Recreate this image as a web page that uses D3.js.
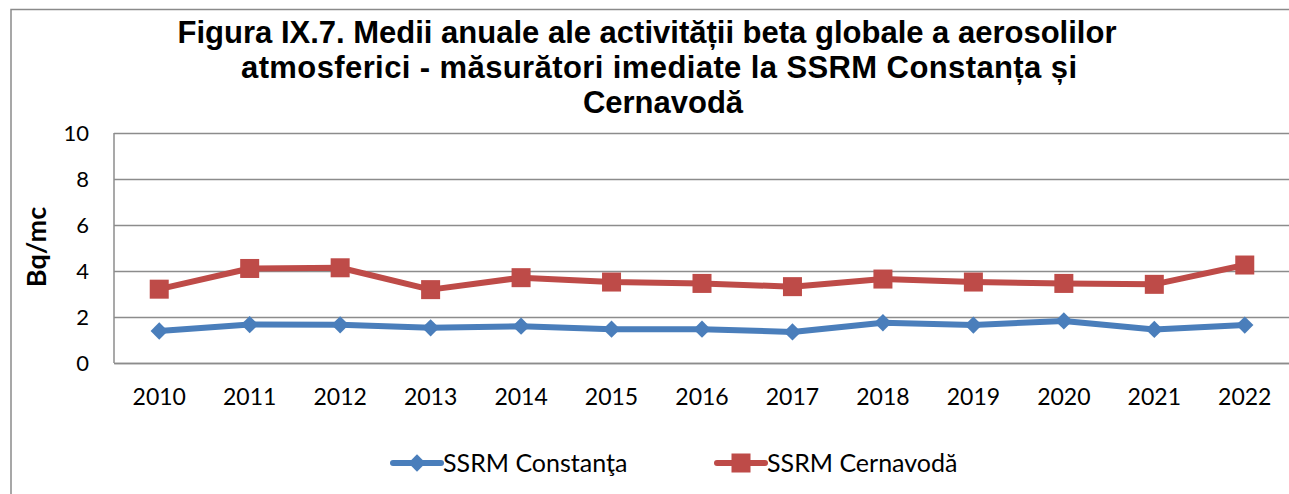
<!DOCTYPE html>
<html>
<head>
<meta charset="utf-8">
<script src="https://cdn.jsdelivr.net/npm/d3@7"></script>
<style>
  body { margin: 0; background: #fff; }
  svg { display: block; }
</style>
</head>
<body>
<script>
const years = ["2010","2011","2012","2013","2014","2015","2016","2017","2018","2019","2020","2021","2022"]
const constanta = [1.39, 1.67, 1.66, 1.53, 1.60, 1.47, 1.47, 1.35, 1.75, 1.65, 1.83, 1.46, 1.65]
const cernavoda = [3.21, 4.11, 4.14, 3.19, 3.71, 3.52, 3.46, 3.32, 3.65, 3.52, 3.46, 3.42, 4.26]
const yTicks = [0, 2, 4, 6, 8, 10]
const titleLines = [
    "Figura IX.7. Medii anuale ale activității beta globale a aerosolilor",
    "atmosferici - măsurători imediate la SSRM Constanța și",
    "Cernavodă"
]
const seriesNames = ["SSRM Constanţa", "SSRM Cernavodă"]

const width = 1289
const height = 494
const plot = {left: 114, right: 1290, top: 133, bottom: 363}
const blue = "#4a7ebb"
const red = "#be4b48"
const grid = "#8c8c8c"
const lblFont = "Lato, 'Open Sans', sans-serif"

const svg = d3.select("body").append("svg")
    .attr("width", width)
    .attr("height", height)

// outer chart frame
svg.append("rect")
    .attr("x", 11).attr("y", 9.5)
    .attr("width", width + 20).attr("height", height + 20)
    .attr("fill", "none").attr("stroke", "#8a8a8a").attr("stroke-width", 1.5)

// title (each line centred where the original puts it)
const titleX = [647, 659, 663]
const title = svg.append("text")
    .attr("text-anchor", "middle")
    .attr("font-family", "'Liberation Sans', Arial, sans-serif")
    .attr("font-weight", "bold")
    .attr("font-size", 31)
title.selectAll("tspan")
    .data(titleLines)
    .enter().append("tspan")
    .attr("x", (d, i) => titleX[i])
    .attr("y", (d, i) => 43 + i * 35)
    .text(d => d)
title.selectAll("tspan").filter((d, i) => i === 1)
    .attr("textLength", 836).attr("lengthAdjust", "spacing")

const x = d3.scaleBand().domain(years).range([plot.left, plot.right])
const cx = d => x(d) + x.bandwidth() / 2
const y = d3.scaleLinear().domain([0, 10]).range([plot.bottom, plot.top])

// gridlines + y axis
const yAxis = svg.append("g")
    .attr("transform", `translate(${plot.left},0)`)
    .call(d3.axisLeft(y).tickValues(yTicks).tickSize(-(plot.right - plot.left)).tickPadding(25))
yAxis.select(".domain").remove()
yAxis.selectAll(".tick line").attr("stroke", grid).attr("stroke-width", 1.5)
yAxis.selectAll(".tick text")
    .attr("font-family", lblFont).attr("font-size", 22).attr("fill", "#000")

svg.append("line")
    .attr("x1", plot.left).attr("x2", plot.left)
    .attr("y1", plot.top).attr("y2", plot.bottom)
    .attr("stroke", grid).attr("stroke-width", 1.5)

// x axis
const xAxis = svg.append("g")
    .attr("transform", `translate(0,${plot.bottom})`)
    .call(d3.axisBottom(x).tickSize(0).tickPadding(26))
xAxis.select(".domain").attr("stroke", grid).attr("stroke-width", 1.5)
xAxis.selectAll(".tick text")
    .attr("font-family", lblFont).attr("font-size", 23).attr("fill", "#000")

// y axis title
svg.append("text")
    .attr("transform", "translate(46,247) rotate(-90)")
    .attr("text-anchor", "middle")
    .attr("font-family", lblFont)
    .attr("font-weight", "bold")
    .attr("font-size", 27)
    .text("Bq/mc")

const line = d3.line().x((d, i) => cx(years[i])).y(d => y(d))

const diamond = d3.symbol().type(d3.symbolSquare).size(150)

function drawSeries(values, color, marker) {
    svg.append("path")
        .datum(values)
        .attr("d", line)
        .attr("fill", "none")
        .attr("stroke", color)
        .attr("stroke-width", 6)
        .attr("stroke-linejoin", "round")
    values.forEach((d, i) => marker(svg, cx(years[i]), y(d), color))
}

const drawDiamond = (sel, px, py, color) => {
    sel.append("path")
        .attr("d", diamond)
        .attr("transform", `translate(${px},${py}) rotate(45)`)
        .attr("fill", color)
}
const drawSquare = (sel, px, py, color) => {
    sel.append("rect")
        .attr("x", px - 9.5).attr("y", py - 9.5)
        .attr("width", 19).attr("height", 19)
        .attr("fill", color)
}

drawSeries(constanta, blue, drawDiamond)
drawSeries(cernavoda, red, drawSquare)

// legend
const legend = [
    {name: seriesNames[0], color: blue, x0: 393, draw: drawDiamond},
    {name: seriesNames[1], color: red, x0: 717, draw: drawSquare}
]
legend.forEach(l => {
    svg.append("line")
        .attr("x1", l.x0).attr("x2", l.x0 + 48)
        .attr("y1", 463).attr("y2", 463)
        .attr("stroke", l.color).attr("stroke-width", 6)
        .attr("stroke-linecap", "round")
    l.draw(svg, l.x0 + 24, 463, l.color)
    svg.append("text")
        .attr("x", l.x0 + 50).attr("y", 472)
        .attr("font-family", lblFont).attr("font-size", 25)
        .text(l.name)
})
</script>
</body>
</html>
